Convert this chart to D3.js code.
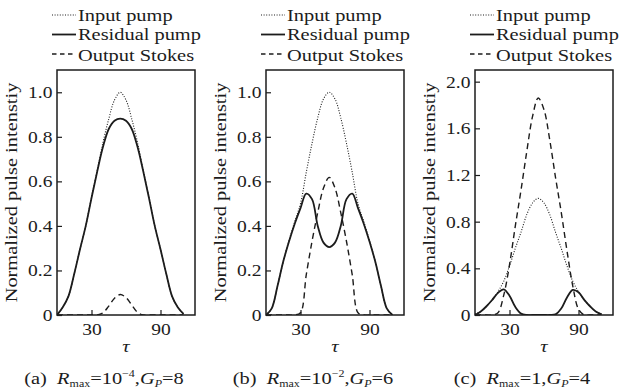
<!DOCTYPE html>
<html>
<head>
<meta charset="utf-8">
<script src="https://cdn.jsdelivr.net/npm/d3@7"></script>
<style>
body { margin: 0; background: #fff; }
svg { display: block; }
text { font-family: "Liberation Serif", "Times New Roman", serif; fill: #1c1c1c; }
</style>
</head>
<body>
<script>
// time axis samples (tau) shared by every series
const tau = [0, 5, 10, 15, 20, 25, 30, 35, 40, 45, 50, 55, 60, 65, 70, 75, 80, 85, 90, 95, 100, 105, 110];

// (a) Rmax = 1e-4, Gp = 8
const inputA    = [0, 0.035, 0.085, 0.185, 0.295, 0.40, 0.53, 0.65, 0.775, 0.88, 0.965, 1.0, 0.965, 0.88, 0.775, 0.65, 0.53, 0.40, 0.295, 0.185, 0.085, 0.035, 0.005];
const residualA = [0, 0.035, 0.085, 0.185, 0.295, 0.40, 0.525, 0.645, 0.755, 0.835, 0.872, 0.882, 0.872, 0.835, 0.755, 0.645, 0.525, 0.40, 0.295, 0.185, 0.085, 0.035, 0.005];
const stokesA   = [0, 0, 0, 0, 0, 0, 0, 0, 0.01, 0.04, 0.075, 0.092, 0.078, 0.045, 0.012, 0, 0, 0, 0, 0, 0, 0, 0];

// (b) Rmax = 1e-2, Gp = 6
const inputB    = [0, 0.03, 0.13, 0.24, 0.335, 0.42, 0.50, 0.64, 0.77, 0.885, 0.97, 1.0, 0.97, 0.885, 0.77, 0.64, 0.50, 0.42, 0.335, 0.24, 0.13, 0.03, 0];
const residualB = [0, 0.03, 0.13, 0.24, 0.33, 0.41, 0.48, 0.545, 0.52, 0.40, 0.325, 0.305, 0.325, 0.40, 0.52, 0.545, 0.48, 0.41, 0.33, 0.24, 0.13, 0.03, 0];
const stokesB   = [0, 0, 0, 0, 0, 0, 0.01, 0.18, 0.33, 0.46, 0.57, 0.618, 0.57, 0.46, 0.33, 0.18, 0.01, 0, 0, 0, 0, 0, 0];

// (c) Rmax = 1, Gp = 4
const inputC    = [0.01, 0.03, 0.075, 0.13, 0.20, 0.29, 0.42, 0.57, 0.71, 0.86, 0.96, 1.0, 0.96, 0.86, 0.71, 0.57, 0.42, 0.29, 0.20, 0.13, 0.075, 0.03, 0.01];
const residualC = [0, 0.03, 0.075, 0.13, 0.19, 0.22, 0.165, 0.07, 0.012, 0, 0, 0, 0, 0, 0.005, 0.055, 0.15, 0.215, 0.195, 0.13, 0.075, 0.03, 0.005];
const stokesC   = [0, 0, 0, 0, 0.02, 0.17, 0.43, 0.76, 1.07, 1.40, 1.70, 1.86, 1.76, 1.50, 1.18, 0.88, 0.55, 0.25, 0.05, 0, 0, 0, 0];

const panelIds = ["a", "b", "c"];
const yMaxes = [1.1, 1.1, 2.1];
const yTicksAB = [0, 0.2, 0.4, 0.6, 0.8, 1.0];
const yTicksC = [0, 0.4, 0.8, 1.2, 1.6, 2.0];
const xTicks = [30, 90];
const xDomain = [0, 120];
const rmaxBase = ["10", "10", "1"];
const rmaxExp = ["\u22124", "\u22122", ""];
const gpValues = ["8", "6", "4"];
const legendLabels = ["Input pump", "Residual pump", "Output Stokes"];
const yLabel = "Normalized pulse intenstiy";

// layout
const plotLefts = [57, 266, 475];
const plotTop = 70, plotW = 138, plotH = 245;
const ink = "#1c1c1c";
const stretch = 1.2;   // the original type is set wide

const panelData = [
    [inputA, residualA, stokesA],
    [inputB, residualB, stokesB],
    [inputC, residualC, stokesC]
];
const yTickSets = [yTicksAB, yTicksAB, yTicksC];

// line styles: dotted input, solid residual, dashed stokes
const styles = [
    { dash: "1,1.6", width: 1.1 },
    { dash: null, width: 1.8 },
    { dash: "6,4", width: 1.4 }
];

const svg = d3.select("body").append("svg")
    .attr("width", 619)
    .attr("height", 391);

const defs = svg.append("defs");
const fmt = d => d === 0 ? "0" : d3.format(".1f")(d);

panelIds.forEach((id, p) => {
    const left = plotLefts[p];
    const g = svg.append("g").attr("transform", "translate(" + left + "," + plotTop + ")");

    const x = d3.scaleLinear().domain(xDomain).range([0, plotW]);
    const y = d3.scaleLinear().domain([0, yMaxes[p]]).range([plotH, 0]);

    defs.append("clipPath").attr("id", "clip" + id)
        .append("rect")
        .attr("x", 0).attr("y", -1)
        .attr("width", plotW).attr("height", plotH + 1);

    // curves
    const line = d3.line()
        .x((d, i) => x(tau[i]))
        .y(d => y(d))
        .curve(d3.curveCatmullRom.alpha(0.5));

    const curves = g.append("g").attr("clip-path", "url(#clip" + id + ")");
    panelData[p].forEach((series, k) => {
        curves.append("path")
            .datum(series)
            .attr("fill", "none")
            .attr("stroke", ink)
            .attr("stroke-width", styles[k].width)
            .attr("stroke-dasharray", styles[k].dash)
            .attr("d", line);
    });

    // Y axis, ticks point inward
    const yAxis = g.append("g")
        .call(d3.axisLeft(y).tickValues(yTickSets[p]).tickFormat(fmt)
            .tickSizeInner(-5).tickSizeOuter(0).tickPadding(4))
        .attr("font-size", 17);
    yAxis.select(".domain").remove();
    yAxis.selectAll("line").attr("stroke", ink).attr("stroke-width", 1.2);
    yAxis.selectAll("text").attr("fill", ink).attr("transform", "scale(1.15,1)");

    // X axis
    const xAxis = g.append("g")
        .attr("transform", "translate(0," + plotH + ")")
        .call(d3.axisBottom(x).tickValues(xTicks)
            .tickSizeInner(-5).tickSizeOuter(0).tickPadding(8))
        .attr("font-size", 17);
    xAxis.select(".domain").remove();
    xAxis.selectAll("line").attr("stroke", ink).attr("stroke-width", 1.2);
    xAxis.selectAll("text").attr("fill", ink).attr("transform", "scale(1.15,1)");

    // frame
    g.append("rect")
        .attr("width", plotW)
        .attr("height", plotH)
        .attr("fill", "none")
        .attr("stroke", ink)
        .attr("stroke-width", 1.5);

    // Y label
    svg.append("text")
        .attr("transform", "translate(" + (left - 40) + "," + (plotTop + plotH / 2) + ") rotate(-90) scale(" + stretch + ",1)")
        .attr("text-anchor", "middle")
        .attr("font-size", 17)
        .text(yLabel);

    // X label
    svg.append("text")
        .attr("transform", "translate(" + (left + plotW / 2) + ",352) scale(" + stretch + ",1)")
        .attr("text-anchor", "middle")
        .attr("font-size", 17)
        .attr("font-style", "italic")
        .text("\u03c4");

    // legend
    const legendLine = [15, 34.5, 54];
    const legendText = [20.5, 40, 60.5];
    legendLabels.forEach((label, k) => {
        svg.append("line")
            .attr("x1", left - 5).attr("x2", left + 19)
            .attr("y1", legendLine[k]).attr("y2", legendLine[k])
            .attr("stroke", ink)
            .attr("stroke-width", styles[k].width)
            .attr("stroke-dasharray", k === 2 ? "4.5,3.5" : styles[k].dash);
        svg.append("text")
            .attr("transform", "translate(" + (left + 21) + "," + legendText[k] + ") scale(" + stretch + ",1)")
            .attr("font-size", 17)
            .text(label);
    });

    // caption
    const cap = svg.append("text")
        .attr("transform", "translate(" + (left + plotW / 2 - 22) + ",384) scale(" + stretch + ",1)")
        .attr("text-anchor", "middle")
        .attr("font-size", 17);
    cap.append("tspan").text("(" + id + ")\u00a0\u00a0");
    cap.append("tspan").attr("font-style", "italic").text("R");
    cap.append("tspan").attr("font-size", 10).attr("dy", 3).text("max");
    cap.append("tspan").attr("dy", -3).text("=" + rmaxBase[p]);
    if (rmaxExp[p]) {
        cap.append("tspan").attr("font-size", 10).attr("dy", -7).text(rmaxExp[p]);
        cap.append("tspan").attr("dy", 7).text(",");
    } else {
        cap.append("tspan").text(",");
    }
    cap.append("tspan").attr("font-style", "italic").text("G");
    cap.append("tspan").attr("font-size", 10).attr("font-style", "italic").attr("dy", 3).text("P");
    cap.append("tspan").attr("dy", -3).text("=" + gpValues[p]);
});
</script>
</body>
</html>
